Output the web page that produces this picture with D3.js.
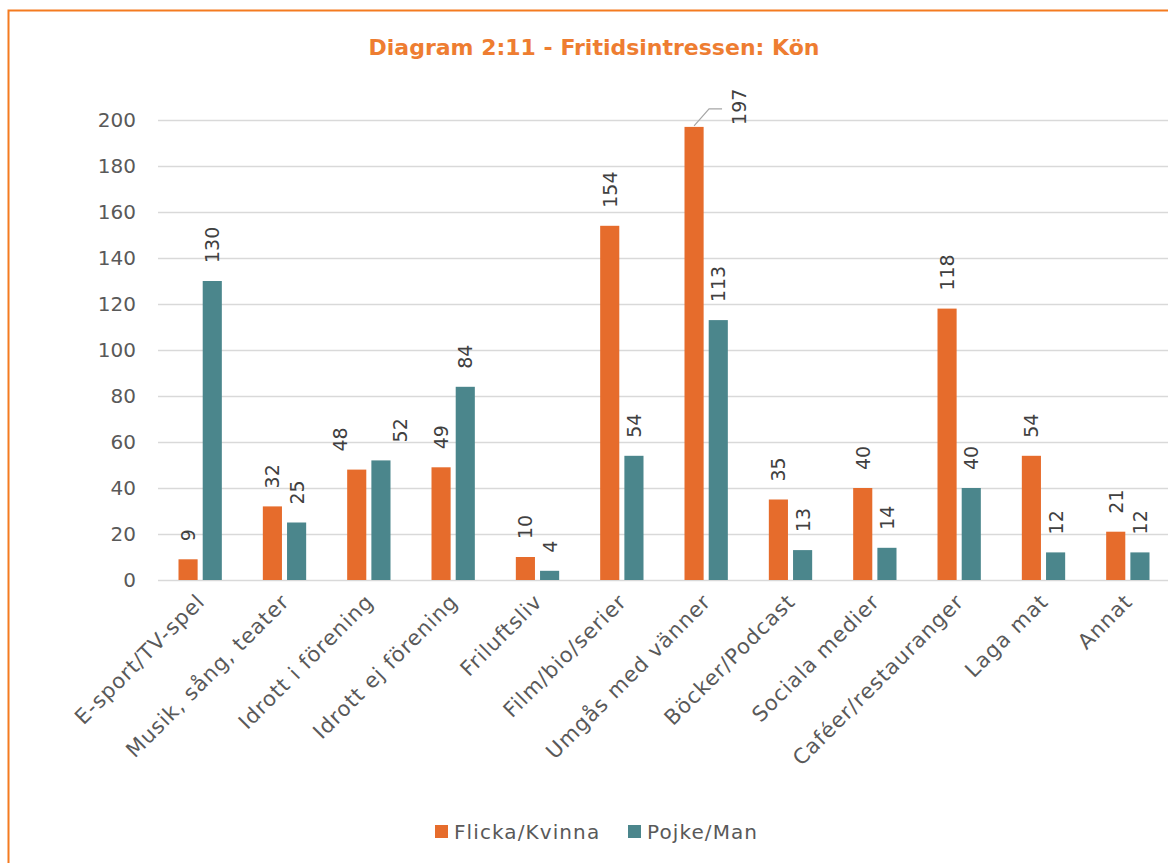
<!DOCTYPE html>
<html>
<head>
<meta charset="utf-8">
<script src="https://cdn.jsdelivr.net/npm/d3@7"></script>
<style>
  body { margin: 0; background: #fff; }
  svg { display: block; }
</style>
</head>
<body>
<svg width="1168" height="863"></svg>
<script>
var categories = ["E-sport/TV-spel", "Musik, sång, teater", "Idrott i förening", "Idrott ej förening",
    "Friluftsliv", "Film/bio/serier", "Umgås med vänner", "Böcker/Podcast", "Sociala medier",
    "Caféer/restauranger", "Laga mat", "Annat"];
var seriesNames = ["Flicka/Kvinna", "Pojke/Man"];
var flicka = [9, 32, 48, 49, 10, 154, 197, 35, 40, 118, 54, 21];
var pojke = [130, 25, 52, 84, 4, 54, 113, 13, 14, 40, 12, 12];
var yTicks = [0, 20, 40, 60, 80, 100, 120, 140, 160, 180, 200];
var colors = ["#e66c2c", "#4b868c"];

var svg = d3.select("svg"),
    font = "'DejaVu Sans', sans-serif",
    textColor = "#595959",
    plotLeft = 158,
    plotRight = 1170,
    plotTop = 120,
    plotBottom = 580;

// labels that were dragged sideways in the original (per series)
var labelNudge = { "Idrott i förening": [-17, 19] };

// frame
svg.append("rect")
    .attr("x", 8.5)
    .attr("y", 10.5)
    .attr("width", 1180)
    .attr("height", 900)
    .attr("fill", "none")
    .attr("stroke", "#f47b20")
    .attr("stroke-width", 2);

svg.append("text")
    .attr("x", 594)
    .attr("y", 55)
    .attr("text-anchor", "middle")
    .attr("font-family", font)
    .attr("font-weight", "bold")
    .attr("font-size", 22)
    .attr("fill", "#ee7d31")
    .text("Diagram 2:11 - Fritidsintressen: Kön");

var x = d3.scaleBand().domain(categories).range([plotLeft, plotRight]);
var xSub = d3.scaleBand().domain(seriesNames)
    .range([20.5, x.bandwidth() - 20.5])
    .paddingInner(0.21);
var y = d3.scaleLinear().domain([0, 200]).range([plotBottom, plotTop]);

// grid
svg.append("g").selectAll("line")
    .data(yTicks)
    .join("line")
    .attr("x1", plotLeft)
    .attr("x2", plotRight)
    .attr("y1", function (d) { return Math.round(y(d)) + 0.5; })
    .attr("y2", function (d) { return Math.round(y(d)) + 0.5; })
    .attr("stroke", "#d9d9d9")
    .attr("stroke-width", 1.5);

svg.append("g").selectAll("text")
    .data(yTicks)
    .join("text")
    .attr("x", 136)
    .attr("y", function (d) { return y(d); })
    .attr("dy", "0.36em")
    .attr("text-anchor", "end")
    .attr("font-family", font)
    .attr("font-size", 20)
    .attr("fill", textColor)
    .text(function (d) { return d; });

// labels that would run past the top get moved aside with a leader line
function pushedAside(d) {
    return y(d) - 55 < 85;
}

var series = [flicka, pojke];
series.forEach(function (values, s) {
    var name = seriesNames[s];
    var g = svg.append("g");
    g.selectAll("rect")
        .data(values)
        .join("rect")
        .attr("x", function (d, i) { return x(categories[i]) + xSub(name); })
        .attr("y", function (d) { return y(d); })
        .attr("width", xSub.bandwidth())
        .attr("height", function (d) { return plotBottom - y(d); })
        .attr("fill", colors[s]);

    g.selectAll("text")
        .data(values)
        .join("text")
        .attr("transform", function (d, i) {
            var cx = x(categories[i]) + xSub(name) + xSub.bandwidth() / 2;
            var ty = y(d) - 18;
            if (labelNudge[categories[i]]) cx += labelNudge[categories[i]][s];
            if (pushedAside(d)) {
                cx = cx + 45;
                ty = y(d) - 2;
            }
            return "translate(" + (cx + 7) + "," + ty + ") rotate(-90)";
        })
        .attr("font-family", font)
        .attr("font-size", 19)
        .attr("fill", "#404040")
        .text(function (d) { return d; });

    values.forEach(function (d, i) {
        if (pushedAside(d)) {
            var cx = x(categories[i]) + xSub(name) + xSub.bandwidth() / 2;
            svg.append("polyline")
                .attr("points", [[cx, y(d) - 1], [cx + 15, y(d) - 18], [cx + 28, y(d) - 18]].join(" "))
                .attr("fill", "none")
                .attr("stroke", "#a6a6a6")
                .attr("stroke-width", 1.2);
        }
    });
});

// category labels
svg.append("g").selectAll("text")
    .data(categories)
    .join("text")
    .attr("transform", function (d) {
        return "translate(" + (x(d) + x.bandwidth() / 2 + 6) + "," + (plotBottom + 23) + ") rotate(-45)";
    })
    .attr("text-anchor", "end")
    .attr("font-family", font)
    .attr("font-size", 21)
    .attr("letter-spacing", 1)
    .attr("fill", textColor)
    .text(function (d) { return d; });

// legend
var legend = svg.append("g");
var legendX = [435, 628];
seriesNames.forEach(function (name, s) {
    legend.append("rect")
        .attr("x", legendX[s])
        .attr("y", 825)
        .attr("width", 13)
        .attr("height", 13)
        .attr("fill", colors[s]);
    legend.append("text")
        .attr("x", legendX[s] + 19)
        .attr("y", 839)
        .attr("font-family", font)
        .attr("font-size", 20)
        .attr("letter-spacing", 1.1)
        .attr("fill", textColor)
        .text(name);
});
</script>
</body>
</html>
